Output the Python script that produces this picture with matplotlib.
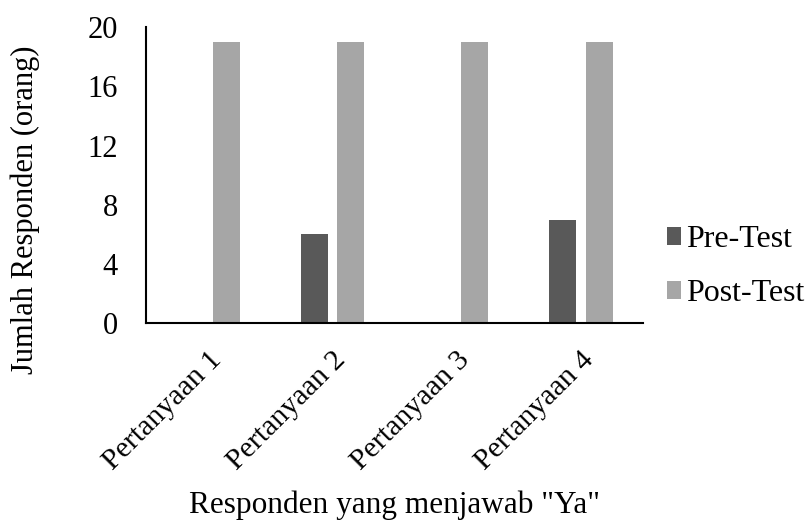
import matplotlib
matplotlib.use("Agg")
import matplotlib.pyplot as plt
import numpy as np

categories = ["Pertanyaan 1", "Pertanyaan 2", "Pertanyaan 3", "Pertanyaan 4"]
pre_test = [0, 6, 0, 7]
post_test = [19, 19, 19, 19]
yticks = [0, 4, 8, 12, 16, 20]

plt.rcParams['font.family'] = ['Liberation Serif', 'DejaVu Serif']

fig = plt.figure(figsize=(8.1, 5.22), dpi=100)
ax = fig.add_axes([0.180, 0.381, 0.614, 0.567])

x = np.arange(len(categories))
w = 0.217
off = 0.147
ax.bar(x - off, pre_test, w, color='#595959', label='Pre-Test')
ax.bar(x + off, post_test, w, color='#a6a6a6', label='Post-Test')

ax.set_xlim(-0.5, len(categories) - 0.5)
ax.set_ylim(0, 20)
ax.set_yticks(yticks)
ax.set_yticklabels([str(v) for v in yticks], fontsize=22)
ax.set_xticks(x)
ax.set_xticklabels(categories, fontsize=21.5, rotation=45, ha='right', va='top',
                   rotation_mode='anchor')
ax.tick_params(axis='y', length=0, pad=20)
ax.tick_params(axis='x', length=0, pad=17)

for s in ['top', 'right']:
    ax.spines[s].set_visible(False)
for s in ['left', 'bottom']:
    ax.spines[s].set_linewidth(1.5)
    ax.spines[s].set_color('black')

ax.set_ylabel('Jumlah Responden (orang)', fontsize=22)
ax.yaxis.set_label_coords(-0.213, 0.382)
ax.set_xlabel('Responden yang menjawab "Ya"', fontsize=22.5, labelpad=11)

ax.legend(loc='center left', bbox_to_anchor=(0.99, 0.19), frameon=False,
          fontsize=23, handlelength=0.45, handleheight=0.45, handletextpad=0.15,
          labelspacing=0.78)

fig.savefig('out.png', dpi=100)
